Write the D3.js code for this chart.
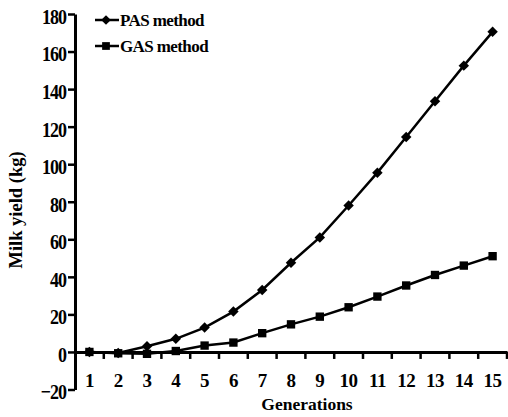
<!DOCTYPE html>
<html><head><meta charset="utf-8">
<script src="https://cdn.jsdelivr.net/npm/d3@7/dist/d3.min.js"></script>
<style>body{margin:0;background:#fff}svg{display:block}</style>
</head><body>
<script>
const generations = [1,2,3,4,5,6,7,8,9,10,11,12,13,14,15];
const pasValues = [0,-0.5,3,7,13,21.5,33,47.5,61,78,95.5,114.5,133.5,152.5,170.5];
const gasValues = [0,-0.7,-1,0.5,3.4,5,10,14.7,18.8,23.8,29.5,35.4,41,46,51];
const yTicks = [-20,0,20,40,60,80,100,120,140,160,180];
const seriesNames = ["PAS method","GAS method"];

const W=508,H=417;
const svg=d3.select("body").append("svg").attr("width",W).attr("height",H);
const font="'Liberation Serif','Times New Roman',serif";

const x=d3.scaleBand().domain(generations).range([75,507]);
const y=d3.scaleLinear().domain([-20,180]).range([389.5,14]);

// y axis
const ya=svg.append("g").attr("transform","translate(75,0)")
  .call(d3.axisLeft(y).tickValues(yTicks).tickSize(7).tickSizeOuter(0));
ya.select(".domain").attr("stroke","#000").attr("stroke-width",3);
ya.selectAll(".tick line").attr("stroke","#000").attr("stroke-width",2.5);
ya.selectAll(".tick text").attr("font-family",font).attr("font-size",18).attr("font-weight","bold")
  .attr("fill","#000").attr("x",-9).attr("y",2).attr("dy","0.34em").style("letter-spacing","-1px")
  .attr("transform","scale(1,1.2)");
ya.selectAll(".tick text").attr("y",function(){return 2/1.2;});

// x axis at zero
const xa=svg.append("g").attr("transform",`translate(0,${y(0)})`)
  .call(d3.axisBottom(x).tickSize(0).tickSizeOuter(0));
xa.select(".domain").attr("stroke","#000").attr("stroke-width",3);
xa.selectAll(".tick text").attr("font-family",font).attr("font-size",19).attr("font-weight","bold")
  .attr("fill","#000").attr("y",29).attr("dy","0.34em").style("letter-spacing","-0.5px");
// band boundary ticks
const bounds=generations.slice(1).map(g=>x(g)).concat([x(generations[generations.length-1])+x.bandwidth()]);
svg.append("g").selectAll("line").data(bounds).join("line")
  .attr("x1",d=>d).attr("x2",d=>d).attr("y1",y(0)).attr("y2",y(0)+7)
  .attr("stroke","#000").attr("stroke-width",2.5);

// axis titles
svg.append("text").attr("transform",`translate(22,210) rotate(-90)`).attr("text-anchor","middle")
  .attr("font-family",font).attr("font-size",18.5).attr("font-weight","bold").text("Milk yield (kg)");
svg.append("text").attr("x",307).attr("y",410).attr("text-anchor","middle")
  .attr("font-family",font).attr("font-size",17.5).attr("font-weight","bold").text("Generations");

const cx=d=>x(d)+x.bandwidth()/2;
const line=d3.line().x((d,i)=>cx(generations[i])).y(d=>y(d));
const series=[{name:seriesNames[0],vals:pasValues,sym:d3.symbolDiamond2,size:70},
              {name:seriesNames[1],vals:gasValues,sym:d3.symbolSquare,size:70}];
series.forEach(s=>{
  svg.append("path").datum(s.vals).attr("d",line).attr("fill","none").attr("stroke","#000").attr("stroke-width",2.5);
  svg.append("g").selectAll("path").data(s.vals).join("path")
    .attr("transform",(d,i)=>`translate(${cx(generations[i])},${y(d)})`)
    .attr("d",d3.symbol().type(s.sym).size(s.size)).attr("fill","#000");
});

// legend
series.forEach((s,i)=>{
  const ly=20+i*26;
  const g=svg.append("g");
  g.append("line").attr("x1",95).attr("x2",119).attr("y1",ly).attr("y2",ly).attr("stroke","#000").attr("stroke-width",2.5);
  g.append("path").attr("transform",`translate(106,${ly})`).attr("d",d3.symbol().type(s.sym).size(60)).attr("fill","#000");
  g.append("text").attr("x",120).attr("y",ly).attr("dy","0.34em").attr("font-family",font)
    .attr("font-size",17).attr("font-weight","bold").style("letter-spacing","-0.6px").text(s.name);
});
</script>
</body></html>
